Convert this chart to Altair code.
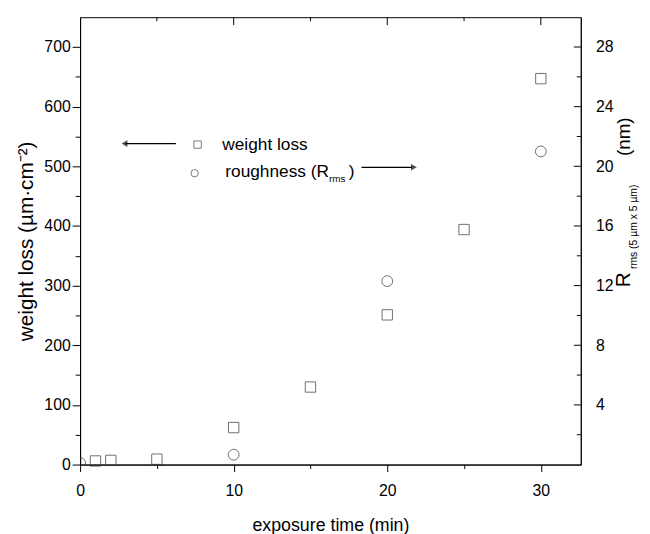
import altair as alt
import pandas as pd

# ---- data ----
time_wl = [1, 2, 5, 10, 15, 20, 25, 30]
weight_loss = [6, 7, 9, 62, 130, 251, 394, 647]
time_r = [0, 10, 20, 30]
roughness = [0.1, 0.66, 12.3, 21.0]

x_ticks = [0, 5, 10, 15, 20, 25, 30]
left_ticks = [0, 50, 100, 150, 200, 250, 300, 350, 400, 450, 500, 550, 600, 650, 700]
right_major = [4, 8, 12, 16, 20, 24, 28]
right_minor = [2, 6, 10, 14, 18, 22, 26]
top_major = [10, 20, 30]
top_minor = [5, 15, 25]

legend_labels = ["weight loss", "roughness (R", "rms", ")"]
right_title_parts = ["R", "rms (5 \u00b5m x 5 \u00b5m)", "(nm)"]

W, H = 507, 453
FONT = "Liberation Sans"
XS = alt.Scale(domain=[0, 32.6], nice=False, zero=False)
YL = alt.Scale(domain=[0, 750], nice=False, zero=False)
YR = alt.Scale(domain=[0, 30], nice=False, zero=False)

df_wl = pd.DataFrame({"t": time_wl, "wl": weight_loss})
df_r = pd.DataFrame({"t": time_r, "r": roughness})

x_axis = alt.Axis(
    values=x_ticks,
    labelExpr="datum.value % 10 == 0 ? datum.label : ''",
    tickSize={"condition": {"test": "datum.value % 10 == 0", "value": 7}, "value": 4},
    title="exposure time (min)",
    titleFontSize=18, titleFontWeight="normal", titleFont=FONT, titlePadding=19,
    labelFontSize=16, labelFont=FONT, labelPadding=11,
    grid=False, domainColor="black", tickColor="black", labelColor="black",
    titleColor="black", labelFlush=False,
)

squares = alt.Chart(df_wl).mark_point(
    shape="square", filled=False, size=110, stroke="#333", strokeWidth=1
).encode(
    x=alt.X("t:Q", scale=XS, axis=x_axis),
    y=alt.Y("wl:Q", scale=YL, axis=alt.Axis(
        values=left_ticks, orient="left",
        labelExpr="datum.value % 100 == 0 ? datum.label : ''",
        tickSize={"condition": {"test": "datum.value % 100 == 0", "value": 8}, "value": 5},
        title="weight loss (\u00b5m\u00b7cm\u207b\u00b2)",
        titleFontSize=21, titleFontWeight="normal", titleFont=FONT, titlePadding=7,
        labelFontSize=16, labelFont=FONT, labelPadding=2,
        grid=False, domainColor="black", tickColor="black", labelColor="black",
        titleColor="black", labelFlush=False,
    )),
)

circles = alt.Chart(df_r).mark_point(
    shape="circle", filled=False, size=120, stroke="#333", strokeWidth=1, clip=True
).encode(
    x=alt.X("t:Q", scale=XS),
    y=alt.Y("r:Q", scale=YR, axis=alt.Axis(
        values=right_major, orient="right", ticks=False, title=None,
        labelFontSize=16, labelFont=FONT, labelPadding=15,
        grid=False, domainColor="black", labelColor="black", labelFlush=False,
    )),
)

# inward ticks on the right axis
rmaj = alt.Chart(pd.DataFrame({"v": right_major})).mark_rule(color="black").encode(
    y=alt.Y("v:Q", scale=YR, axis=None), x=alt.value(W - 7), x2=alt.value(W))
rmin = alt.Chart(pd.DataFrame({"v": right_minor})).mark_rule(color="black").encode(
    y=alt.Y("v:Q", scale=YR, axis=None), x=alt.value(W - 4), x2=alt.value(W))
# inward ticks on the top axis
tmaj = alt.Chart(pd.DataFrame({"v": top_major})).mark_rule(color="black").encode(
    x=alt.X("v:Q", scale=XS), y=alt.value(0), y2=alt.value(8))
tmin = alt.Chart(pd.DataFrame({"v": top_minor})).mark_rule(color="black").encode(
    x=alt.X("v:Q", scale=XS), y=alt.value(0), y2=alt.value(4))

one = pd.DataFrame({"k": [0]})

def txt(label, x, y, size, align="left", angle=0):
    return alt.Chart(pd.DataFrame({"label": [label]})).mark_text(
        font=FONT, fontSize=size, align=align, baseline="middle", color="black", angle=angle
    ).encode(text="label:N", x=alt.value(x), y=alt.value(y))

# legend
leg = [
    alt.Chart(one).mark_rule(color="black", strokeWidth=1.2).encode(
        x=alt.value(46), x2=alt.value(97), y=alt.value(128)),
    alt.Chart(one).mark_point(shape="triangle-left", filled=True, size=45, color="black").encode(
        x=alt.value(45), y=alt.value(128)),
    alt.Chart(one).mark_point(shape="square", filled=False, size=55, stroke="#444", strokeWidth=1).encode(
        x=alt.value(119), y=alt.value(129)),
    alt.Chart(one).mark_point(shape="circle", filled=False, size=55, stroke="#444", strokeWidth=1).encode(
        x=alt.value(116), y=alt.value(158)),
    txt(legend_labels[0], 144, 129, 17.5),
    txt(legend_labels[1], 252, 157, 17.5, align="right"),
    txt(legend_labels[2], 252, 164, 10),
    txt(legend_labels[3], 272, 157, 17.5),
    alt.Chart(one).mark_rule(color="black", strokeWidth=1.2).encode(
        x=alt.value(285), x2=alt.value(336), y=alt.value(152)),
    alt.Chart(one).mark_point(shape="triangle-right", filled=True, size=45, color="black").encode(
        x=alt.value(338), y=alt.value(152)),
]

# right axis title (rotated, composed)
rt = [
    txt(right_title_parts[0], 551, 266, 21, align="center", angle=270),
    txt(right_title_parts[1], 561, 255, 10.5, align="left", angle=270),
    txt(right_title_parts[2], 551, 121, 19, align="center", angle=270),
]

chart = alt.layer(squares, circles, rmaj, rmin, tmaj, tmin, *leg, *rt).resolve_scale(
    y="independent"
).properties(
    width=W, height=H,
    autosize=alt.AutoSizeParams(type="none"),
    padding={"left": 73, "top": 6, "right": 62, "bottom": 67},
    background="white",
).configure_view(stroke="black", strokeWidth=1)

chart.save("out.html", embed_options={"renderer": "svg", "actions": False})
